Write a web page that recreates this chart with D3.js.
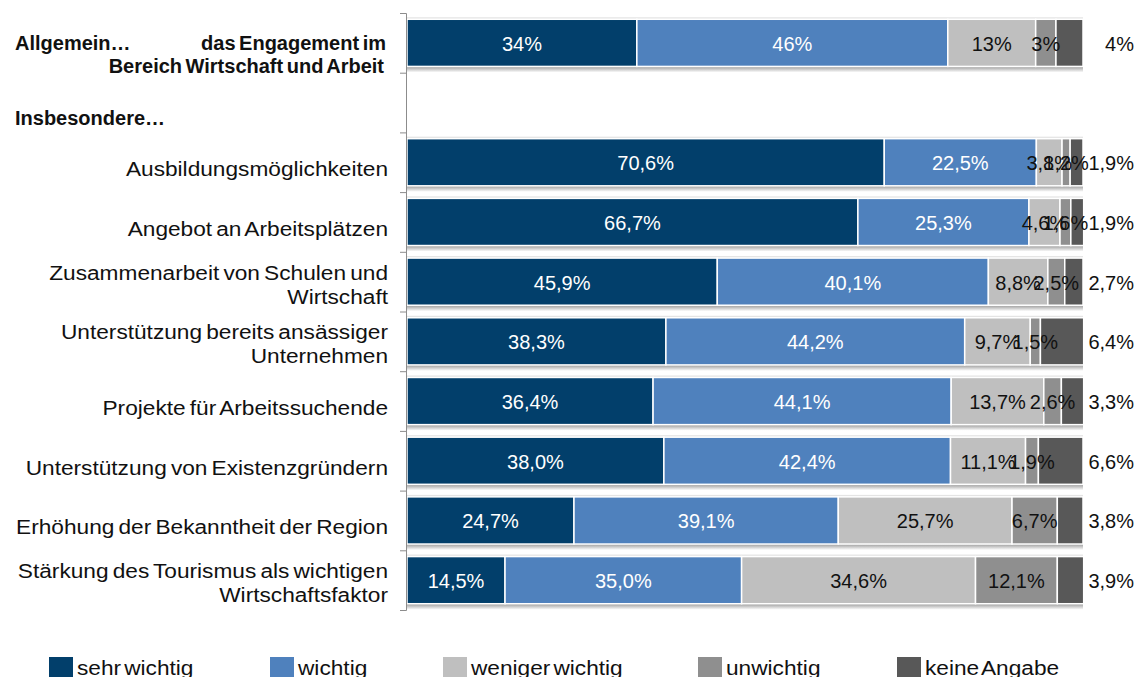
<!DOCTYPE html>
<html>
<head>
<meta charset="utf-8">
<script src="https://cdn.jsdelivr.net/npm/d3@7"></script>
<style>
	body { margin: 0; background: #fff; }
	svg { display: block; font-family: 'Liberation Sans', Arial, sans-serif; }
</style>
</head>
<body>
<script>
const width = 1136; //Width of SVG.
const height = 677; //Height of SVG.

//Row keys and row labels (one entry per line), the header row has no bar.
const categories = ['allgemein', 'insbesondere', 'ausbildung', 'arbeitsplaetze', 'schulen', 'unternehmen', 'arbeitssuchende', 'existenz', 'bekanntheit', 'tourismus'];
const categoryLines = [
	['Allgemein…', 'Bereich Wirtschaft und Arbeit'],
	['Insbesondere…'],
	['Ausbildungsmöglichkeiten'],
	['Angebot an Arbeitsplätzen'],
	['Zusammenarbeit von Schulen und', 'Wirtschaft'],
	['Unterstützung bereits ansässiger', 'Unternehmen'],
	['Projekte für Arbeitssuchende'],
	['Unterstützung von Existenzgründern'],
	['Erhöhung der Bekanntheit der Region'],
	['Stärkung des Tourismus als wichtigen', 'Wirtschaftsfaktor']
];

const seriesNames = ['sehr wichtig', 'wichtig', 'weniger wichtig', 'unwichtig', 'keine Angabe'];
const colours = ['#023f6b', '#4f81bd', '#bfbfbf', '#8f8f8f', '#585858'];

//Values per series (null = header row without a bar).
const sehrWichtig    = [34, null, 70.6, 66.7, 45.9, 38.3, 36.4, 38.0, 24.7, 14.5];
const wichtig        = [46, null, 22.5, 25.3, 40.1, 44.2, 44.1, 42.4, 39.1, 35.0];
const wenigerWichtig = [13, null, 3.8, 4.6, 8.8, 9.7, 13.7, 11.1, 25.7, 34.6];
const unwichtig      = [3, null, 1.2, 1.6, 2.5, 1.5, 2.6, 1.9, 6.7, 12.1];
const keineAngabe    = [4, null, 1.9, 1.9, 2.7, 6.4, 3.3, 6.6, 3.8, 3.9];

const decimals = [0, null, 1, 1, 1, 1, 1, 1, 1, 1]; //First row is shown as whole numbers.

const legendX = [49, 270, 443, 698, 897]; //Left edge of each legend entry.

const seriesValues = [sehrWichtig, wichtig, wenigerWichtig, unwichtig, keineAngabe];

//Build rows for d3.stack.
const rows = categories.map((c, i) => {
	let row = { key: c, index: i };
	seriesNames.forEach((s, j) => { row[s] = seriesValues[j][i] || 0; });
	return row;
}).filter((r, i) => sehrWichtig[i] !== null);

const stacked = d3.stack().keys(seriesNames)(rows);

const xScale = d3.scaleLinear()
	.domain([0, 100])
	.range([407, 1083]);

const yScale = d3.scaleBand()
	.domain(categories)
	.range([13, 610])
	.paddingInner(0.21)
	.paddingOuter(0.105);

const fmt = (v, i) => v.toFixed(decimals[i]).replace('.', ',') + '%';

//The reference text is a little wider than the installed fonts, so stretch it.
const stretched = (sel, x, y, sx) => sel
	.attr('transform', 'translate(' + x + ',' + y + ') scale(' + sx + ',1)');

const svg = d3.select('body')
	.append('svg')
	.attr('width', width)
	.attr('height', height);

const defs = svg.append('defs');
const shadow = defs.append('linearGradient') //Soft shadow under each bar.
	.attr('id', 'shadow')
	.attr('x1', 0).attr('y1', 0).attr('x2', 0).attr('y2', 1);
shadow.append('stop').attr('offset', '0%').attr('stop-color', '#9a9a9a');
shadow.append('stop').attr('offset', '100%').attr('stop-color', '#ffffff');

//Shadows.
svg.append('g')
	.selectAll('rect')
	.data(rows)
	.enter()
	.append('rect')
	.attr('x', xScale(0))
	.attr('y', d => yScale(d.key) + yScale.bandwidth())
	.attr('width', xScale(100) - xScale(0))
	.attr('height', 6)
	.attr('fill', 'url(#shadow)');

svg.append('g')
	.selectAll('rect')
	.data(rows)
	.enter()
	.append('rect')
	.attr('x', xScale(0))
	.attr('y', d => yScale(d.key) - 2)
	.attr('width', xScale(100) - xScale(0))
	.attr('height', 2)
	.attr('fill', '#e4e4e4');

//Bar segments.
const layers = svg.append('g')
	.selectAll('g')
	.data(stacked)
	.enter()
	.append('g')
	.attr('fill', (d, i) => colours[i]);

layers.selectAll('rect')
	.data(d => d)
	.enter()
	.append('rect')
	.attr('x', d => xScale(d[0]))
	.attr('y', d => yScale(d.data.key))
	.attr('width', d => xScale(d[1]) - xScale(d[0]))
	.attr('height', yScale.bandwidth())
	.attr('stroke', '#fff')
	.attr('stroke-width', 1.5);

//Value labels.
stacked.forEach((layer, li) => {
	svg.append('g')
		.selectAll('text')
		.data(layer)
		.enter()
		.append('text')
		.attr('x', d => li === 4 ? 1134 : xScale((d[0] + d[1]) / 2))
		.attr('y', d => yScale(d.data.key) + yScale.bandwidth() / 2 + 8)
		.attr('text-anchor', li === 4 ? 'end' : 'middle')
		.attr('fill', li < 2 ? '#fff' : '#111')
		.style('font-size', '20px')
		.text(d => fmt(d[1] - d[0], d.data.index));
});

//Left axis line with ticks on the band edges.
const tickScale = d3.scaleLinear()
	.domain([0, categories.length])
	.range([13, 610]);

const yAxis = svg.append('g')
	.attr('transform', 'translate(406,0)')
	.call(d3.axisLeft(tickScale).ticks(categories.length).tickSize(6).tickFormat('').tickSizeOuter(6));
yAxis.selectAll('path, line').attr('stroke', '#8c8c8c');

//Category labels.
const labelG = svg.append('g')
	.attr('fill', '#111');

categoryLines.forEach((lines, i) => {
	const cy = yScale(categories[i]) + yScale.bandwidth() / 2;
	if (i === 0) {
		labelG.append('text').attr('x', 15).attr('y', cy + 7)
			.style('font-size', '20px').style('font-weight', 'bold').text(lines[0]);
		labelG.append('text').attr('x', 386).attr('y', cy + 7)
			.attr('text-anchor', 'end').style('font-size', '20px').style('font-weight', 'bold')
			.style('word-spacing', '-2px').text('das Engagement im');
		labelG.append('text').attr('x', 384).attr('y', cy + 30)
			.attr('text-anchor', 'end').style('font-size', '20px').style('font-weight', 'bold')
			.style('word-spacing', '-2px').text(lines[1]);
	} else if (i === 1) {
		labelG.append('text').attr('x', 15).attr('y', cy + 22)
			.style('font-size', '20px').style('font-weight', 'bold').text(lines[0]);
	} else {
		const top = cy + 14 - (lines.length - 1) * 16;
		lines.forEach((l, k) => {
			labelG.append('text')
				.call(stretched, 388, top + k * 24, 1.08)
				.attr('text-anchor', 'end')
				.style('font-size', '21px')
				.style('word-spacing', '-2px')
				.text(l);
		});
	}
});

//Legend.
const legend = svg.append('g')
	.selectAll('g')
	.data(seriesNames)
	.enter()
	.append('g')
	.attr('transform', (d, i) => 'translate(' + legendX[i] + ',657)');

legend.append('rect')
	.attr('width', 24)
	.attr('height', 20)
	.attr('fill', (d, i) => colours[i]);

legend.append('text')
	.call(stretched, 28, 18, 1.08)
	.style('font-size', '21px')
	.style('word-spacing', '-3px')
	.attr('fill', '#111')
	.text(d => d);
</script>
</body>
</html>
